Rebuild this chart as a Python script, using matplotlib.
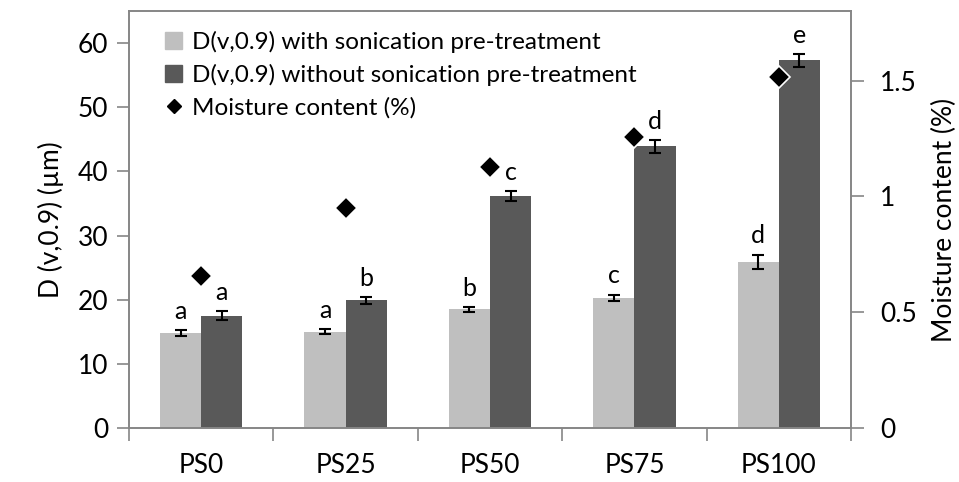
import matplotlib as mpl
import matplotlib.pyplot as plt
import numpy as np
from matplotlib.lines import Line2D
from matplotlib.patches import Patch

# Sample groups
samples = ['PS0', 'PS25', 'PS50', 'PS75', 'PS100']

# D(v,0.9) in um, with and without sonication, with standard deviations
d_sonic = [14.8, 15.0, 18.5, 20.3, 25.9]
d_sonic_err = [0.5, 0.4, 0.4, 0.5, 1.15]
d_nosonic = [17.5, 19.9, 36.2, 43.9, 57.3]
d_nosonic_err = [0.7, 0.5, 0.75, 0.95, 1.05]

# Significance letters
letters_sonic = ['a', 'a', 'b', 'c', 'd']
letters_nosonic = ['a', 'b', 'c', 'd', 'e']

# Moisture content (%)
moisture = [0.655, 0.95, 1.125, 1.255, 1.515]

mpl.rcParams['font.family'] = ['Lato', 'DejaVu Sans']
mpl.rcParams['font.size'] = 19

light = '#bfbfbf'
dark = '#595959'
spine_c = '#868686'

fig = plt.figure(figsize=(9.59, 4.82), dpi=100)
ax = fig.add_axes([0.1345, 0.112, 0.753, 0.865])
ax2 = ax.twinx()

x = np.arange(len(samples))
w = 0.285

ax.bar(x - w/2, d_sonic, w, color=light, zorder=2)
ax.bar(x + w/2, d_nosonic, w, color=dark, zorder=2)
ax.errorbar(x - w/2, d_sonic, yerr=d_sonic_err, fmt='none', ecolor='black',
            elinewidth=1.5, capsize=4, capthick=1.5, zorder=3)
ax.errorbar(x + w/2, d_nosonic, yerr=d_nosonic_err, fmt='none', ecolor='black',
            elinewidth=1.5, capsize=4, capthick=1.5, zorder=3)

for xi, v, e, t in zip(x - w/2, d_sonic, d_sonic_err, letters_sonic):
    ax.annotate(t, (xi, v + e), xytext=(0, 8), textcoords='offset points',
                ha='center', va='baseline', fontsize=18)
for xi, v, e, t in zip(x + w/2, d_nosonic, d_nosonic_err, letters_nosonic):
    ax.annotate(t, (xi, v + e), xytext=(0, 8), textcoords='offset points',
                ha='center', va='baseline', fontsize=18)

ax2.plot(x, moisture, linestyle='none', marker='D', markersize=11,
         markerfacecolor='black', markeredgecolor='white', markeredgewidth=1.2,
         zorder=5)

ax.set_xlim(-0.5, len(samples) - 0.5)
ax.set_ylim(0, 65)
ax.set_yticks(range(0, 61, 10))
ax2.set_ylim(0, 1.8)
ax2.set_yticks([0, 0.5, 1, 1.5])
ax2.set_yticklabels(['0', '0.5', '1', '1.5'])

# category labels centred, ticks on the boundaries
ax.set_xticks(x)
ax.set_xticklabels(samples)
ax.tick_params(axis='x', which='major', length=0, pad=18)
ax.set_xticks(np.arange(-0.5, len(samples), 1), minor=True)
ax.tick_params(axis='x', which='minor', length=9, width=1.2, color=spine_c,
               direction='out')
ax.tick_params(axis='y', length=9, width=1.2, color=spine_c, pad=6)
ax2.tick_params(axis='y', length=9, width=1.2, color=spine_c, pad=12)

for a in (ax, ax2):
    for s in a.spines.values():
        s.set_color(spine_c)
        s.set_linewidth(1.2)

ax.set_ylabel('D (v,0.9) (µm)', labelpad=10)
ax2.set_ylabel('Moisture content (%)', labelpad=11)

handles = [Patch(color=light), Patch(color=dark),
           Line2D([], [], linestyle='none', marker='D', markersize=7,
                  color='black')]
labels = ['D(v,0.9) with sonication pre-treatment',
          'D(v,0.9) without sonication pre-treatment',
          'Moisture content (%)']
ax2.legend(handles, labels, loc='upper left', bbox_to_anchor=(0.02, 1.005),
           frameon=False, handlelength=0.7, handleheight=0.7,
           handletextpad=0.4, labelspacing=0.45, fontsize=17.5)

fig.savefig('out.png', dpi=100)
